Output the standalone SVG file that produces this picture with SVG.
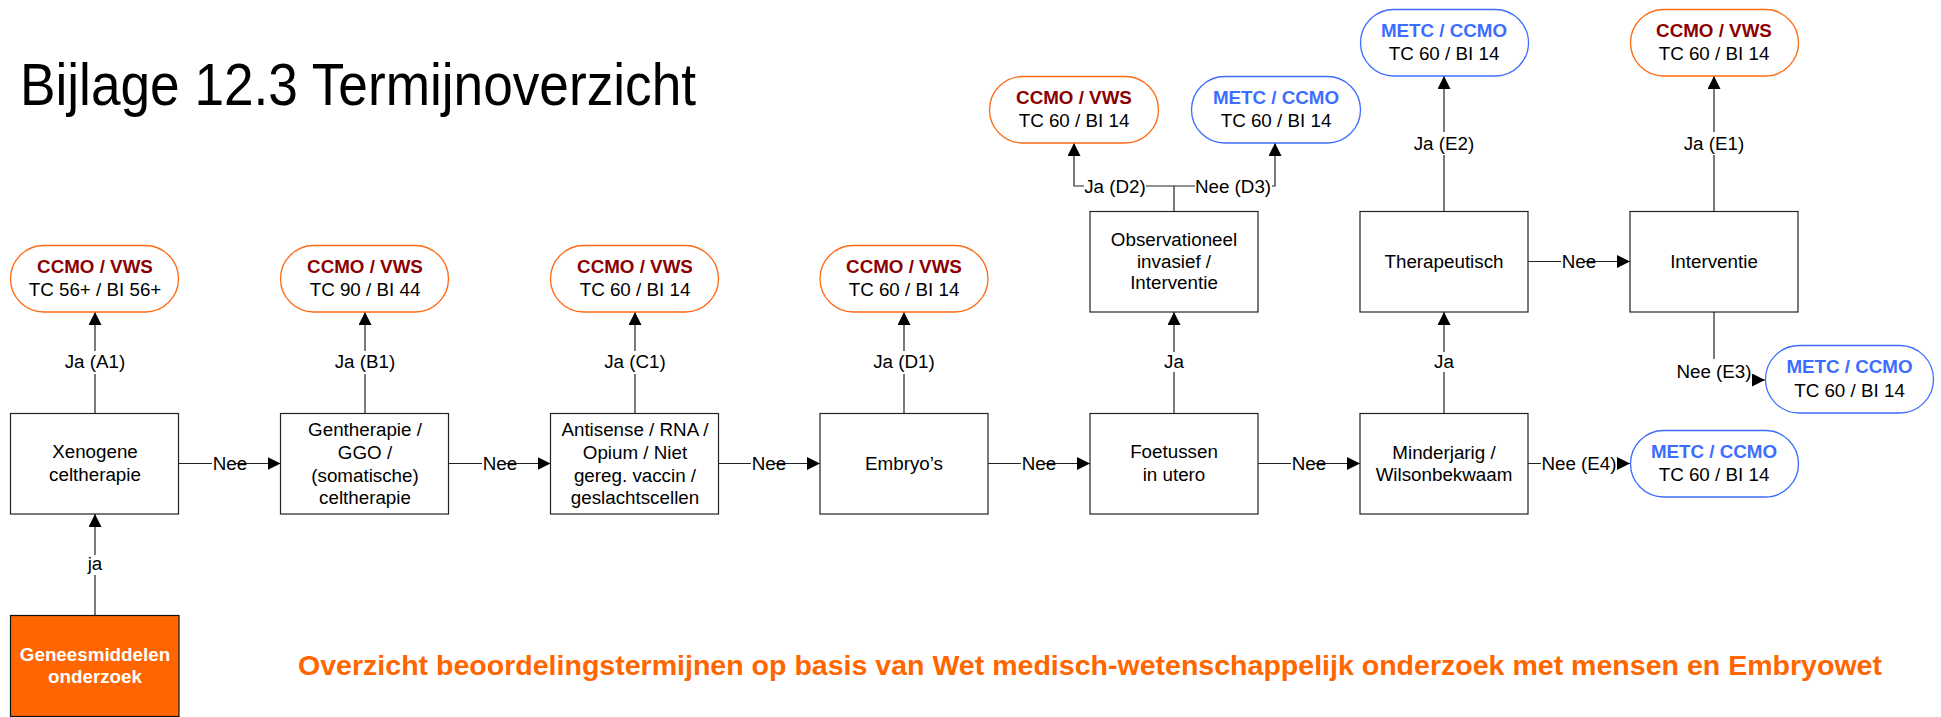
<svg xmlns="http://www.w3.org/2000/svg" width="1941" height="717" viewBox="0 0 1941 717">
<defs>
<style>
text{font-family:"Liberation Sans",Arial,sans-serif;font-size:18.8px;fill:#000;text-anchor:middle}
.box{fill:#fff;stroke:#222;stroke-width:1.2}
.po{fill:#fff;stroke:#FF6A13;stroke-width:1.3}
.pb{fill:#fff;stroke:#3D6DFF;stroke-width:1.3}
.hr{font-weight:bold;fill:#8B0000}
.hb{font-weight:bold;fill:#3D6DFF}
.ln{fill:none;stroke:#222;stroke-width:1.2}
.ar{marker-end:url(#ah)}
.lbg{fill:#fff}
</style>
<marker id="ah" markerUnits="userSpaceOnUse" markerWidth="14" markerHeight="13" refX="13" refY="6.5" orient="auto">
<path d="M0,0 L13,6.5 L0,13 z" fill="#000"/>
</marker>
</defs>
<rect width="1941" height="717" fill="#fff"/>
<text x="20" y="105" style="font-size:60px;text-anchor:start" textLength="676" lengthAdjust="spacingAndGlyphs">Bijlage 12.3 Termijnoverzicht</text>
<text x="298" y="675" style="font-size:28px;font-weight:bold;fill:#FF6600;text-anchor:start" textLength="1584" lengthAdjust="spacingAndGlyphs">Overzicht beoordelingstermijnen op basis van Wet medisch-wetenschappelijk onderzoek met mensen en Embryowet</text>

<g id="connectors">
<path class="ln ar" d="M95,615.5 V514"/>
<path class="ln ar" d="M95,413.5 V312"/>
<path class="ln ar" d="M365,413.5 V312"/>
<path class="ln ar" d="M635,413.5 V312"/>
<path class="ln ar" d="M904,413.5 V312"/>
<path class="ln ar" d="M1174,413.5 V312"/>
<path class="ln ar" d="M1444,413.5 V312"/>
<path class="ln ar" d="M1444,211.5 V76"/>
<path class="ln ar" d="M1714,211.5 V76"/>
<path class="ln" d="M1174,211.5 V186"/>
<path class="ln ar" d="M1174,186 H1074 V143"/>
<path class="ln ar" d="M1174,186 H1275 V143"/>
<path class="ln ar" d="M1714,312 V380 H1765"/>
<path class="ln ar" d="M178.5,463.5 H280.5"/>
<path class="ln ar" d="M448.5,463.5 H550.5"/>
<path class="ln ar" d="M718.5,463.5 H820"/>
<path class="ln ar" d="M988,463.5 H1090"/>
<path class="ln ar" d="M1258,463.5 H1360"/>
<path class="ln ar" d="M1528,463.5 H1630"/>
<path class="ln ar" d="M1528,261.5 H1630"/>
<rect class="lbg" x="84" y="555" width="22" height="20"/>
<text x="95" y="569.5">ja</text>
<rect class="lbg" x="64" y="351" width="62" height="23"/>
<text x="95" y="368.4">Ja (A1)</text>
<rect class="lbg" x="334" y="351" width="62" height="23"/>
<text x="365" y="368.4">Ja (B1)</text>
<rect class="lbg" x="604" y="351" width="62" height="23"/>
<text x="635" y="368.4">Ja (C1)</text>
<rect class="lbg" x="873" y="351" width="62" height="23"/>
<text x="904" y="368.4">Ja (D1)</text>
<rect class="lbg" x="1161" y="352" width="26" height="20"/>
<text x="1174" y="368.4">Ja</text>
<rect class="lbg" x="1431" y="352" width="26" height="20"/>
<text x="1444" y="368.4">Ja</text>
<rect class="lbg" x="1413" y="132" width="62" height="23"/>
<text x="1444" y="150">Ja (E2)</text>
<rect class="lbg" x="1683" y="132" width="62" height="23"/>
<text x="1714" y="150">Ja (E1)</text>
<rect class="lbg" x="1084" y="175" width="62" height="22"/>
<text x="1115" y="192.7">Ja (D2)</text>
<rect class="lbg" x="1195" y="175" width="77" height="22"/>
<text x="1233" y="192.7">Nee (D3)</text>
<rect class="lbg" x="1676" y="359" width="76" height="25"/>
<text x="1714" y="377.7">Nee (E3)</text>
<rect class="lbg" x="1541" y="452" width="76" height="23"/>
<text x="1579" y="470.2">Nee (E4)</text>
<rect class="lbg" x="212" y="452" width="23" height="23"/>
<text x="230" y="470.2">Nee</text>
<rect class="lbg" x="482" y="452" width="23" height="23"/>
<text x="500" y="470.2">Nee</text>
<rect class="lbg" x="751" y="452" width="23" height="23"/>
<text x="769" y="470.2">Nee</text>
<rect class="lbg" x="1021" y="452" width="23" height="23"/>
<text x="1039" y="470.2">Nee</text>
<rect class="lbg" x="1291" y="452" width="23" height="23"/>
<text x="1309" y="470.2">Nee</text>
<rect class="lbg" x="1561" y="250" width="23" height="23"/>
<text x="1579" y="268.2">Nee</text>
</g>

<g id="n-geneesmiddelen">
<rect x="10.5" y="615.5" width="168.5" height="101" fill="#FF6600" stroke="#111" stroke-width="1.2"/>
<text x="95" y="660.7" style="font-weight:bold;fill:#fff">Geneesmiddelen</text>
<text x="95" y="683.4" style="font-weight:bold;fill:#fff">onderzoek</text>
</g>

<g id="n-xenogene">
<rect class="box" x="10.5" y="413.5" width="168" height="100.5"/>
<text x="95" y="458.3">Xenogene</text>
<text x="95" y="481.1">celtherapie</text>
</g>
<g id="n-gentherapie">
<rect class="box" x="280.5" y="413.5" width="168" height="100.5"/>
<text x="365" y="436">Gentherapie /</text>
<text x="365" y="458.8">GGO /</text>
<text x="365" y="481.6">(somatische)</text>
<text x="365" y="504.4">celtherapie</text>
</g>
<g id="n-antisense">
<rect class="box" x="550.5" y="413.5" width="168" height="100.5"/>
<text x="635" y="436">Antisense / RNA /</text>
<text x="635" y="458.8">Opium / Niet</text>
<text x="635" y="481.6">gereg. vaccin /</text>
<text x="635" y="504.4">geslachtscellen</text>
</g>
<g id="n-embryos">
<rect class="box" x="820" y="413.5" width="168" height="100.5"/>
<text x="904" y="470.2">Embryo’s</text>
</g>
<g id="n-foetussen">
<rect class="box" x="1090" y="413.5" width="168" height="100.5"/>
<text x="1174" y="458.3">Foetussen</text>
<text x="1174" y="481.1">in utero</text>
</g>
<g id="n-minderjarig">
<rect class="box" x="1360" y="413.5" width="168" height="100.5"/>
<text x="1444" y="458.8">Minderjarig /</text>
<text x="1444" y="480.6">Wilsonbekwaam</text>
</g>
<g id="n-observationeel">
<rect class="box" x="1090" y="211.5" width="168" height="100.5"/>
<text x="1174" y="246">Observationeel</text>
<text x="1174" y="267.7">invasief /</text>
<text x="1174" y="289.4">Interventie</text>
</g>
<g id="n-therapeutisch">
<rect class="box" x="1360" y="211.5" width="168" height="100.5"/>
<text x="1444" y="268.2">Therapeutisch</text>
</g>
<g id="n-interventie">
<rect class="box" x="1630" y="211.5" width="168" height="100.5"/>
<text x="1714" y="268.2">Interventie</text>
</g>

<g id="p-a1">
<rect class="po" x="10.5" y="245.5" width="168" height="66.5" rx="33.25"/>
<text class="hr" x="95" y="272.8">CCMO / VWS</text>
<text x="95" y="296.2">TC 56+ / BI 56+</text>
</g>
<g id="p-b1">
<rect class="po" x="280.5" y="245.5" width="168" height="66.5" rx="33.25"/>
<text class="hr" x="365" y="272.8">CCMO / VWS</text>
<text x="365" y="296.2">TC 90 / BI 44</text>
</g>
<g id="p-c1">
<rect class="po" x="550.5" y="245.5" width="168" height="66.5" rx="33.25"/>
<text class="hr" x="635" y="272.8">CCMO / VWS</text>
<text x="635" y="296.2">TC 60 / BI 14</text>
</g>
<g id="p-d1">
<rect class="po" x="820" y="245.5" width="168" height="66.5" rx="33.25"/>
<text class="hr" x="904" y="272.8">CCMO / VWS</text>
<text x="904" y="296.2">TC 60 / BI 14</text>
</g>
<g id="p-d2">
<rect class="po" x="989.5" y="76.5" width="169" height="66.5" rx="33.25"/>
<text class="hr" x="1074" y="103.9">CCMO / VWS</text>
<text x="1074" y="127.3">TC 60 / BI 14</text>
</g>
<g id="p-d3">
<rect class="pb" x="1191.5" y="76.5" width="169" height="66.5" rx="33.25"/>
<text class="hb" x="1276" y="103.9">METC / CCMO</text>
<text x="1276" y="127.3">TC 60 / BI 14</text>
</g>
<g id="p-e2">
<rect class="pb" x="1360.5" y="9.5" width="168" height="66.5" rx="33.25"/>
<text class="hb" x="1444" y="36.9">METC / CCMO</text>
<text x="1444" y="60.3">TC 60 / BI 14</text>
</g>
<g id="p-e1">
<rect class="po" x="1630.5" y="9.5" width="168" height="66.5" rx="33.25"/>
<text class="hr" x="1714" y="36.9">CCMO / VWS</text>
<text x="1714" y="60.3">TC 60 / BI 14</text>
</g>
<g id="p-e3">
<rect class="pb" x="1765.5" y="345.5" width="168" height="67.5" rx="33.75"/>
<text class="hb" x="1849.5" y="373.4">METC / CCMO</text>
<text x="1849.5" y="396.8">TC 60 / BI 14</text>
</g>
<g id="p-e4">
<rect class="pb" x="1630.5" y="430.5" width="168" height="66.5" rx="33.25"/>
<text class="hb" x="1714" y="457.8">METC / CCMO</text>
<text x="1714" y="481.2">TC 60 / BI 14</text>
</g>
</svg>
